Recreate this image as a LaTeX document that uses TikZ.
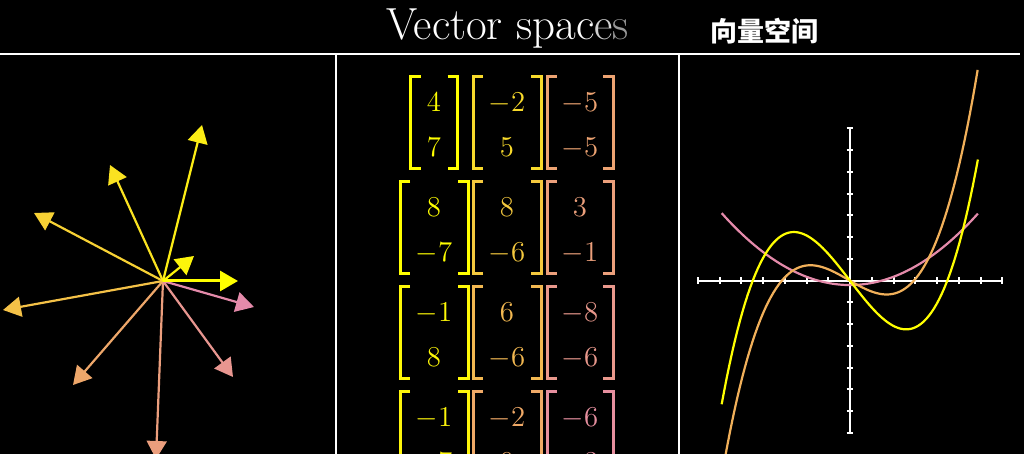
\documentclass[tikz,border=0pt]{standalone}
\usepackage{fontspec}
\newfontfamily\cjk{Noto Sans CJK SC}
\usetikzlibrary{arrows.meta}

\definecolor{vyellow}{HTML}{FFFF00}
\definecolor{vgold}{HTML}{F0AC5F}
\definecolor{vpink}{HTML}{E48AAA}

\tikzset{
  vec/.style={line width=1.1pt,-{Triangle[length=9pt,width=10pt]}},
  brk/.style={line width=1.5pt},
  entry/.style={anchor=base,inner sep=0pt,font=\fontsize{14}{16}\selectfont},
  axis/.style={white,line width=1pt},
  curve/.style={line width=1.1pt},
}

% column vector: name, cx, cy, half width, colour, top entry, bottom entry
\newcommand{\colvec}[7]{%
  \draw[brk,#5] ({#2-#4+10},{#3-46}) -- ({#2-#4},{#3-46}) -- ({#2-#4},{#3+46}) -- ({#2-#4+10},{#3+46});
  \draw[brk,#5] ({#2+#4-10},{#3-46}) -- ({#2+#4},{#3-46}) -- ({#2+#4},{#3+46}) -- ({#2+#4-10},{#3+46});
  \node[entry,text=#5] (#1a) at (#2,{#3-11}) {$#6$};
  \node[entry,text=#5] (#1b) at (#2,{#3+34}) {$#7$};
}

\begin{document}
\begin{tikzpicture}[x=0.5pt,y=-0.5pt]
\useasboundingbox (0,0) rectangle (1024,454);
\fill[black] (0,0) rectangle (1024,454);
\clip (0,0) rectangle (1024,454);

% title
\node[anchor=base,text=white,font=\fontsize{22.5}{26}\selectfont] (title) at (507.5,40)
  {Vector spac{\color{white!82!black}e}{\color{white!60!black}s}};
\node[text=white,font={\cjk\bfseries\fontsize{13.5}{16}\selectfont}] (titlecn) at (764,31) {向量空间};

% frame
\draw[white,line width=1pt] (0,54) -- (1020,54);
\draw[white,line width=1pt] (335.5,54) -- (335.5,454);
\draw[white,line width=1pt] (679,54) -- (679,454);

% arrows
\coordinate (O) at (163,281);
\coordinate (vA) at (238,281);
\coordinate (vB) at (194,256);
\coordinate (vC) at (202,125);
\coordinate (vD) at (110,165);
\coordinate (vE) at (34,213);
\coordinate (vF) at (3,310);
\coordinate (vG) at (73,385);
\coordinate (vH) at (156,459);
\coordinate (vI) at (233,377);
\coordinate (vJ) at (254,307);
\draw[vec,vgold!60!vpink] (O) -- (vH);
\draw[vec,vgold!85!vpink] (O) -- (vG);
\draw[vec,vgold!35!vpink] (O) -- (vI);
\draw[vec,vpink] (O) -- (vJ);
\draw[vec,vyellow!25!vgold] (O) -- (vF);
\draw[vec,vyellow!45!vgold] (O) -- (vE);
\draw[vec,vyellow!65!vgold] (O) -- (vD);
\draw[vec,vyellow!78!vgold] (O) -- (vC);
\draw[vec,vyellow!88!vgold] (O) -- (vB);
\draw[vec,vyellow,line width=1.5pt] (O) -- (vA);

% matrices
\colvec{ma}{434}{123}{23.5}{vyellow}{4}{7}
\colvec{mb}{507}{123}{34}{vyellow!55!vgold}{-2}{5}
\colvec{mc}{580}{123}{33}{vgold!75!vpink}{-5}{-5}
\colvec{md}{434}{228}{34}{vyellow}{8}{-7}
\colvec{me}{507}{228}{34}{vyellow!35!vgold}{8}{-6}
\colvec{mf}{580}{228}{33}{vgold!62!vpink}{3}{-1}
\colvec{mg}{434}{333}{34}{vyellow!92!vgold}{-1}{8}
\colvec{mh}{507}{333}{34}{vyellow!15!vgold}{6}{-6}
\colvec{mi}{580}{333}{33}{vgold!40!vpink}{-8}{-6}
\colvec{mj}{434}{438}{34}{vyellow!88!vgold}{-1}{-7}
\colvec{mk}{507}{438}{34}{vgold!90!vpink}{-2}{0}
\colvec{ml}{580}{438}{33}{vgold!15!vpink}{-6}{-3}

% graph
\begin{scope}[shift={(850,280.7)},x=10.875pt,y=10.875pt]
\draw[axis] (-7,0) -- (7,0);
\draw[axis] (0,-7) -- (0,7);
\foreach \i in {-7,...,7} {
  \draw[axis] (\i,-0.15) -- (\i,0.15);
  \draw[axis] (-0.15,\i) -- (0.15,\i);
}
\draw[curve,vpink,domain=-5.9:5.88,samples=80] plot (\x,{0.095*\x*\x-0.2});
\draw[curve,vgold!95!vyellow,domain=-5.9:5.87,samples=100] plot (\x,{0.0625*(\x*\x*\x+0.2*\x*\x-9.2*\x)});
\draw[curve,vyellow,domain=-5.9:5.88,samples=100] plot (\x,{0.065*\x*\x*\x-1.3*\x});
\end{scope}
\end{tikzpicture}
\end{document}
